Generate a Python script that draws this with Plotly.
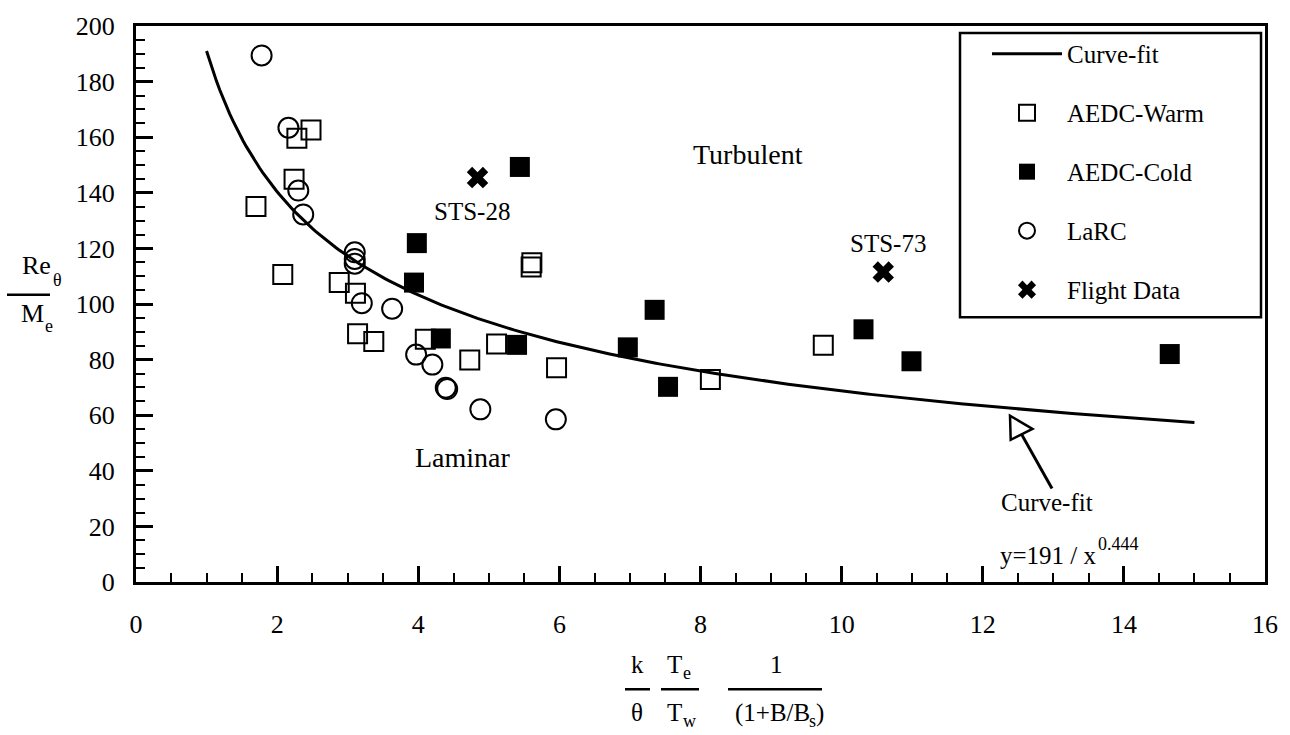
import numpy as np
import plotly.graph_objects as go

FONT = "Liberation Serif, Times New Roman, serif"

# ---------------- data ----------------
warm_x = [1.70, 2.08, 2.24, 2.28, 2.48, 2.88, 3.11, 3.14, 3.37, 4.10, 4.73, 5.11, 5.60, 5.61, 5.96, 8.14, 9.74]
warm_y = [135.1, 110.6, 144.9, 159.6, 162.6, 107.7, 103.9, 89.3, 86.5, 87.3, 79.9, 85.6, 113.3, 114.8, 77.1, 72.8, 85.2]

cold_x = [3.94, 3.98, 4.32, 5.40, 5.44, 6.97, 7.35, 7.54, 10.31, 10.99, 14.65]
cold_y = [107.7, 121.9, 87.6, 85.3, 149.3, 84.4, 97.9, 70.2, 90.9, 79.4, 82.0]

larc_x = [1.78, 2.16, 2.30, 2.37, 3.10, 3.10, 3.10, 3.20, 3.63, 3.97, 4.20, 4.39, 4.41, 4.88, 5.95]
larc_y = [189.4, 163.4, 140.8, 132.2, 118.6, 116.2, 114.5, 100.3, 98.3, 81.8, 78.2, 69.9, 69.4, 62.1, 58.5]

flight_x = [4.84, 10.59]
flight_y = [145.5, 111.5]
flight_names = ["STS-28", "STS-73"]

fit_coef = 191.0
fit_exp = 0.444
fit_x_start = 1.0
fit_x_end = 15.0

x_tick_vals = [0, 2, 4, 6, 8, 10, 12, 14, 16]
y_tick_vals = [0, 20, 40, 60, 80, 100, 120, 140, 160, 180, 200]
X_RANGE = [0, 16]
Y_RANGE = [0, 200]

# ---------------- geometry helpers ----------------
W, H = 1290, 735
ML, MR, MT, MB = 136, 25, 17, 153
PW, PH = W - ML - MR, H - MT - MB
BOTTOM = H - MB


def paper(px, py):
    return (px - ML) / PW, (BOTTOM - py) / PH


def data(px, py):
    return ((px - ML) / PW * (X_RANGE[1] - X_RANGE[0]) + X_RANGE[0],
            (BOTTOM - py) / PH * (Y_RANGE[1] - Y_RANGE[0]) + Y_RANGE[0])


fit_x = np.linspace(fit_x_start, fit_x_end, 300)
fit_y = fit_coef / fit_x ** fit_exp

fig = go.Figure()
fig.add_trace(go.Scatter(x=fit_x, y=fit_y, mode="lines", name="Curve-fit",
                         line=dict(color="black", width=3), legendgroup="g1"))
fig.add_trace(go.Scatter(x=warm_x, y=warm_y, mode="markers", name="AEDC-Warm", legendgroup="g2",
                         marker=dict(symbol="square-open", size=19, color="black", line=dict(width=2))))
fig.add_trace(go.Scatter(x=cold_x, y=cold_y, mode="markers", name="AEDC-Cold", legendgroup="g3",
                         marker=dict(symbol="square", size=20, color="black", line=dict(width=0))))
fig.add_trace(go.Scatter(x=larc_x, y=larc_y, mode="markers", name="LaRC", legendgroup="g4",
                         marker=dict(symbol="circle-open", size=20, color="black", line=dict(width=2))))
fig.add_trace(go.Scatter(x=flight_x, y=flight_y, mode="markers", name="Flight Data", legendgroup="g5",
                         marker=dict(symbol="x", size=19, color="black", line=dict(width=0))))

annotations = []
shapes = []


def add_text(text, px, py, size=25, xanchor="center", yanchor="middle", ref="paper"):
    if ref == "paper":
        x, y = paper(px, py)
        xr, yr = "paper", "paper"
    else:
        x, y = data(px, py)
        xr, yr = "x", "y"
    annotations.append(dict(text=text, x=x, y=y, xref=xr, yref=yr, showarrow=False,
                            xanchor=xanchor, yanchor=yanchor,
                            font=dict(family=FONT, size=size, color="black")))


def add_bar(px0, px1, py, width=2.5):
    x0, y0 = paper(px0, py)
    x1, _ = paper(px1, py)
    shapes.append(dict(type="line", xref="paper", yref="paper", x0=x0, x1=x1, y0=y0, y1=y0,
                       line=dict(color="black", width=width)))


SUB = 18  # size of subscripts / superscripts

# region labels
add_text("Turbulent", 748, 148, size=28, ref="data")
add_text("Laminar", 463, 455, size=28, ref="data")
# flight labels
add_text(flight_names[0], 472, 205, ref="data")
add_text(flight_names[1], 888, 238, ref="data")
# curve-fit callout
add_text("Curve-fit", 1047, 501, ref="data")
add_text("y=191 / x", 998, 555, xanchor="left", ref="data")
add_text("0.444", 1096, 543, size=SUB, xanchor="left", ref="data")

# arrow: stem + open triangular head
tip = (1010, 413)
c1 = (1010.7, 437.5)
c2 = (1032.5, 426.5)
base_mid = ((c1[0] + c2[0]) / 2, (c1[1] + c2[1]) / 2)
tail = (1052, 487)
bx, by = data(*base_mid)
tx, ty = data(*tail)
shapes.append(dict(type="line", xref="x", yref="y", x0=bx, y0=by, x1=tx, y1=ty,
                   line=dict(color="black", width=3)))
p0, p1, p2 = data(*tip), data(*c1), data(*c2)
shapes.append(dict(type="path", xref="x", yref="y",
                   path=f"M{p0[0]},{p0[1]} L{p1[0]},{p1[1]} L{p2[0]},{p2[1]} Z",
                   fillcolor="white", line=dict(color="black", width=2.5)))

# y-axis title as a fraction: Re_theta / M_e
add_text("Re", 20, 260, size=26, xanchor="left")
add_text("θ", 51, 275, size=SUB, xanchor="left")
add_bar(7, 50, 290)
add_text("M", 19, 309, size=26, xanchor="left")
add_text("e", 43, 322, size=SUB, xanchor="left")

# x-axis title: three fractions  k/theta  T_e/T_w  1/(1+B/B_s)
add_text("k", 637, 666)
add_bar(625, 650, 691)
add_text("θ", 637, 715)

add_text("T", 665, 666, xanchor="left")
add_text("e", 681, 674, size=SUB, xanchor="left")
add_bar(661, 699, 691)
add_text("T", 665, 715, xanchor="left")
add_text("w", 681, 723, size=SUB, xanchor="left")

add_text("1", 776, 666)
add_bar(728, 822, 691)
add_text("(1+B/B", 812, 715, xanchor="right")
add_text("s", 807, 723, size=SUB, xanchor="left")
add_text(")", 814, 715, xanchor="left")

# legend frame
lx0, ly0 = paper(960, 313)
lx1, ly1 = paper(1261, 24)
shapes.append(dict(type="rect", xref="paper", yref="paper", x0=lx0, x1=lx1, y0=ly0, y1=ly1,
                   line=dict(color="black", width=2.5), fillcolor="rgba(0,0,0,0)"))

leg_x, leg_y = paper(987, 22)

axis_common = dict(showline=True, linewidth=3, linecolor="black", mirror=True,
                   showgrid=False, zeroline=False, ticks="inside", tickcolor="black",
                   tickfont=dict(family=FONT, size=26, color="black"))

fig.update_layout(
    width=W, height=H, autosize=False,
    margin=dict(l=ML, r=MR, t=MT, b=MB, pad=0),
    paper_bgcolor="white", plot_bgcolor="white",
    font=dict(family=FONT, size=25, color="black"),
    xaxis=dict(range=X_RANGE, tickvals=x_tick_vals, ticklen=16, tickwidth=2.5,
               ticklabelstandoff=17,
               minor=dict(dtick=0.5, ticks="inside", ticklen=9, tickwidth=2, tickcolor="black",
                          showgrid=False),
               **axis_common),
    yaxis=dict(range=Y_RANGE, tickvals=y_tick_vals, ticklen=17, tickwidth=2.5,
               ticklabelstandoff=13,
               minor=dict(dtick=5, ticks="inside", ticklen=9, tickwidth=2, tickcolor="black",
                          showgrid=False),
               **axis_common),
    showlegend=True,
    legend=dict(x=leg_x, y=leg_y, xanchor="left", yanchor="top", bgcolor="rgba(0,0,0,0)",
                borderwidth=0, font=dict(family=FONT, size=25, color="black"),
                itemwidth=70, traceorder="grouped", tracegroupgap=23.5),
    annotations=annotations,
    shapes=shapes,
)

fig.write_html("out.html", config={"displayModeBar": False},
               post_script="document.body.style.margin='0px';")
